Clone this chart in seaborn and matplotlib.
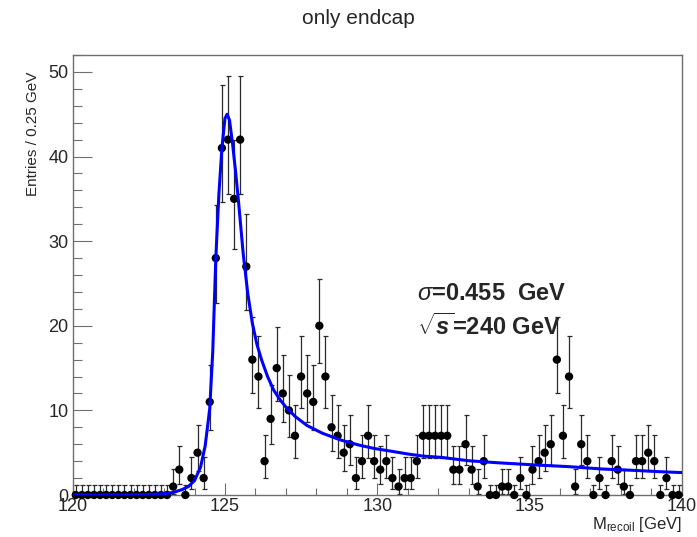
import numpy as np
import pandas as pd
import matplotlib
matplotlib.use("Agg")
import matplotlib.pyplot as plt
import seaborn as sns
from matplotlib.ticker import MultipleLocator

# ---------------- data ----------------
x_min, x_max, n_bins = 120.0, 140.0, 100
counts = [0, 0, 0, 0, 0, 0, 0, 0, 0, 0, 0, 0, 0, 0, 0, 0,
          1, 3, 0, 2, 5, 2, 11, 28, 41, 42, 35, 42, 27, 16, 14, 4, 9, 15, 12, 10, 7, 14,
          12, 11, 20, 14, 8, 7, 5, 6, 2, 4, 7, 4, 3, 4, 2, 1, 2, 2, 4, 7, 7, 7, 7, 7, 3, 3, 6, 3, 1,
          4, 0, 0, 1, 1, 0, 2, 0, 3, 4, 5, 6, 16, 7, 14, 1, 6, 4, 0, 2, 0, 4, 3, 1, 0, 4, 4, 5, 4, 0, 2, 0, 0]

curve_x = [120.0, 121.0, 122.0, 122.5, 123.0, 123.3, 123.6, 123.8, 124.0, 124.2,
           124.35, 124.5, 124.6, 124.7, 124.8, 124.9, 125.0, 125.07, 125.15, 125.25,
           125.35, 125.45, 125.6, 125.75, 125.9, 126.05, 126.2, 126.4, 126.6, 126.8,
           127.0, 127.3, 127.7, 128.2, 128.8, 129.4, 129.9, 130.5, 131.0, 131.5,
           132.1, 133.0, 134.0, 135.2, 136.3, 137.4, 138.5, 139.3, 140.0]
curve_y = [0.0, 0.0, 0.02, 0.05, 0.15, 0.3, 0.65, 1.0, 1.7, 3.3,
           5.8, 10.2, 17.0, 28.0, 35.5, 41.0, 44.5, 45.0, 44.3, 41.5,
           38.2, 34.5, 28.5, 23.8, 20.3, 17.8, 16.0, 14.0, 12.4, 11.3,
           10.4, 9.3, 8.2, 7.3, 6.5, 5.9, 5.5, 5.15, 4.85, 4.6,
           4.45, 4.05, 3.8, 3.55, 3.35, 3.07, 2.9, 2.75, 2.65]

title = "only endcap"
y_title = "Entries / 0.25 GeV"
x_title = r"M$_{\mathrm{recoil}}$ [GeV]"
label1 = r"$\sigma$=0.455  GeV"
label2 = r"$\sqrt{\mathbf{s}}$=240 GeV"

# ---------------- derived ----------------
bw = (x_max - x_min) / n_bins
centers = x_min + bw * (np.arange(n_bins) + 0.5)
n = np.array(counts, dtype=float)
# Poisson (approx. Garwood) intervals as used by RooFit
err_hi = np.where(n > 0, np.sqrt(n + 0.25) + 1.0, 1.147)
err_lo = np.where(n > 0, np.sqrt(np.maximum(n - 0.25, 0)), 0.0)
df = pd.DataFrame({"x": centers, "y": n})
cdf = pd.DataFrame({"x": curve_x, "y": curve_y})

# ---------------- style ----------------
sns.set_style("ticks")
plt.rcParams["font.family"] = ["Liberation Sans", "DejaVu Sans"]
plt.rcParams["mathtext.fontset"] = "custom"
plt.rcParams["mathtext.rm"] = "Liberation Sans"
plt.rcParams["mathtext.it"] = "Liberation Sans:italic"
plt.rcParams["mathtext.bf"] = "Liberation Sans:italic:bold"

fig = plt.figure(figsize=(6.97, 5.37), dpi=100)
ax = fig.add_axes([72.7 / 697, 42 / 537, (681.7 - 72.7) / 697, (495 - 55) / 537])

frame_col = "#6e6e6e"
ax.errorbar(centers, n, yerr=[err_lo, err_hi], fmt="none", ecolor="#2a2a2a",
            elinewidth=0.9, capsize=1.8, capthick=0.9, zorder=2, clip_on=False)
sns.scatterplot(data=df, x="x", y="y", ax=ax, color="black", s=36,
                edgecolor="none", zorder=3, clip_on=False, legend=False)
sns.lineplot(data=cdf, x="x", y="y", ax=ax, color="#0000ff", linewidth=2.2,
             sort=False, estimator=None, zorder=4)

ax.set_xlim(x_min, x_max)
ax.set_ylim(0, 52)
ax.xaxis.set_major_locator(MultipleLocator(5))
ax.xaxis.set_minor_locator(MultipleLocator(1))
ax.yaxis.set_major_locator(MultipleLocator(10))
ax.yaxis.set_minor_locator(MultipleLocator(2))
ax.tick_params(axis="both", which="both", direction="in", color=frame_col,
               labelsize=13, top=False, right=False)
ax.tick_params(axis="x", which="both", pad=2)
ax.tick_params(axis="y", which="both", pad=3)
ax.tick_params(axis="y", which="major", length=13.5, width=0.8)
ax.tick_params(axis="y", which="minor", length=6.5, width=0.8)
ax.tick_params(axis="x", which="major", length=8.6, width=0.8)
ax.tick_params(axis="x", which="minor", length=5, width=0.8)
for sp in ax.spines.values():
    sp.set_color(frame_col)
    sp.set_linewidth(1.0)
    sp.set_visible(True)

ax.set_xlabel("")
ax.set_ylabel("")
fig.text(358 / 697, 1 - 18 / 537, title, ha="center", va="center", fontsize=15)
fig.text(33 / 697, 1 - 72 / 537, y_title, rotation=90, ha="center", va="top", fontsize=11)
fig.text(681.7 / 697, 1 - 524 / 537, x_title, ha="right", va="center", fontsize=12)

ax.text(131.3, 23.8, label1, fontsize=17, fontweight="bold", ha="left", va="center")
ax.text(131.3, 19.9, label2, fontsize=17, fontweight="bold", ha="left", va="center")

fig.savefig("out.png", dpi=100)
